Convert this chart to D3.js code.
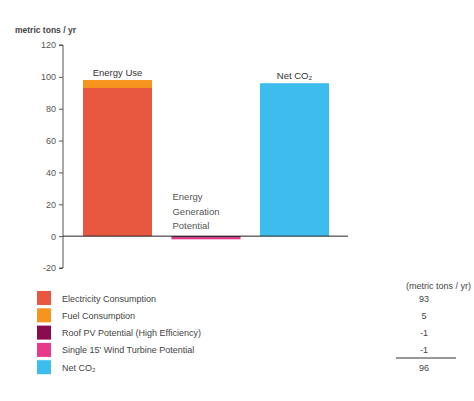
<!DOCTYPE html>
<html>
<head>
<meta charset="utf-8">
<script src="https://cdn.jsdelivr.net/npm/d3@7"></script>
<style>
  html, body { margin: 0; padding: 0; background: #fff; }
  svg { display: block; font-family: "Liberation Sans", Arial, sans-serif; }
</style>
</head>
<body>
<svg id="chart" width="474" height="401"></svg>
<script>
// Emission components (metric tons CO2 / yr)
const components = ["Electricity Consumption", "Fuel Consumption", "Roof PV Potential (High Efficiency)", "Single 15' Wind Turbine Potential", "Net CO\u2082"];
const componentValues = [93, 5, -1, -1, 96];
const componentColors = ["#e8573f", "#f7941d", "#8b0b4f", "#e83a8a", "#3cbdee"];

// Bar groups and which components stack in each
const groups = ["Energy Use", "Energy Generation Potential", "Net CO\u2082"];
const groupStacks = [[0, 1], [2, 3], [4]];
const groupLabelLines = [["Energy Use"], ["Energy", "Generation", "Potential"], ["Net CO\u2082"]];

const yTicks = [-20, 0, 20, 40, 60, 80, 100, 120];
const unitLabel = "metric tons / yr";
const tableHeader = "(metric tons / yr)";

const svg = d3.select("#chart");

const x = d3.scaleBand().domain(groups).range([83, 329]).paddingInner(0.22).paddingOuter(0);
const y = d3.scaleLinear().domain([-20, 120]).range([268, 45]);

// Y axis
const yAxis = d3.axisLeft(y).tickValues(yTicks).tickFormat(d => String(d)).tickSize(4).tickPadding(3);
const gy = svg.append("g").attr("transform", "translate(63,0)").call(yAxis);
gy.select(".domain").attr("stroke", "#555").attr("d", `M-4,${y(120)}H0V${y(-20)}H-4`);
gy.selectAll(".tick line").attr("stroke", "#555");
gy.selectAll(".tick text").attr("fill", "#555").style("font-size", "9px");

svg.append("text").attr("x", 15).attr("y", 33).attr("fill", "#444")
  .style("font-size", "8.5px").style("font-weight", "bold").text(unitLabel);

// Stacked bars
groups.forEach((g, gi) => {
  let pos = 0, neg = 0;
  groupStacks[gi].forEach(ci => {
    const v = componentValues[ci];
    let y0, y1;
    if (v >= 0) { y0 = pos; y1 = pos + v; pos = y1; }
    else { y0 = neg; y1 = neg + v; neg = y1; }
    svg.append("rect")
      .attr("x", x(g)).attr("width", x.bandwidth())
      .attr("y", y(Math.max(y0, y1)))
      .attr("height", Math.abs(y(y0) - y(y1)))
      .attr("fill", componentColors[ci]);
  });
});

// Zero line
svg.append("line").attr("x1", 63).attr("x2", 348).attr("y1", y(0)).attr("y2", y(0))
  .attr("stroke", "#222").attr("stroke-width", 1);

// Group labels
const energyTop = componentValues[0] + componentValues[1];
svg.append("text").attr("x", x(groups[0]) + x.bandwidth() / 2).attr("y", y(energyTop) - 4)
  .attr("text-anchor", "middle").attr("fill", "#333").style("font-size", "9.5px").text(groupLabelLines[0][0]);
svg.append("text").attr("x", x(groups[2]) + x.bandwidth() / 2).attr("y", y(componentValues[4]) - 4)
  .attr("text-anchor", "middle").attr("fill", "#333").style("font-size", "9.5px").text(groupLabelLines[2][0]);
groupLabelLines[1].forEach((line, i) => {
  svg.append("text").attr("x", x(groups[1]) + 1).attr("y", y(0) - 36 + i * 14.5)
    .attr("fill", "#555").style("font-size", "9.5px").text(line);
});

// Legend
const legend = svg.append("g");
components.forEach((c, i) => {
  const ry = 291 + i * 17.3;
  legend.append("rect").attr("x", 37).attr("y", ry).attr("width", 14).attr("height", 14).attr("fill", componentColors[i]);
  legend.append("text").attr("x", 62).attr("y", ry + 10.5).attr("fill", "#444")
    .style("font-size", "9px").text(c);
  legend.append("text").attr("x", 424).attr("y", ry + 10.5).attr("text-anchor", "middle").attr("fill", "#444")
    .style("font-size", "9px").text(componentValues[i]);
});
svg.append("text").attr("x", 471).attr("y", 289).attr("text-anchor", "end").attr("fill", "#444")
  .style("font-size", "9px").text(tableHeader);
svg.append("line").attr("x1", 396).attr("x2", 456).attr("y1", 358).attr("y2", 358)
  .attr("stroke", "#333").attr("stroke-width", 1);
</script>
</body>
</html>
